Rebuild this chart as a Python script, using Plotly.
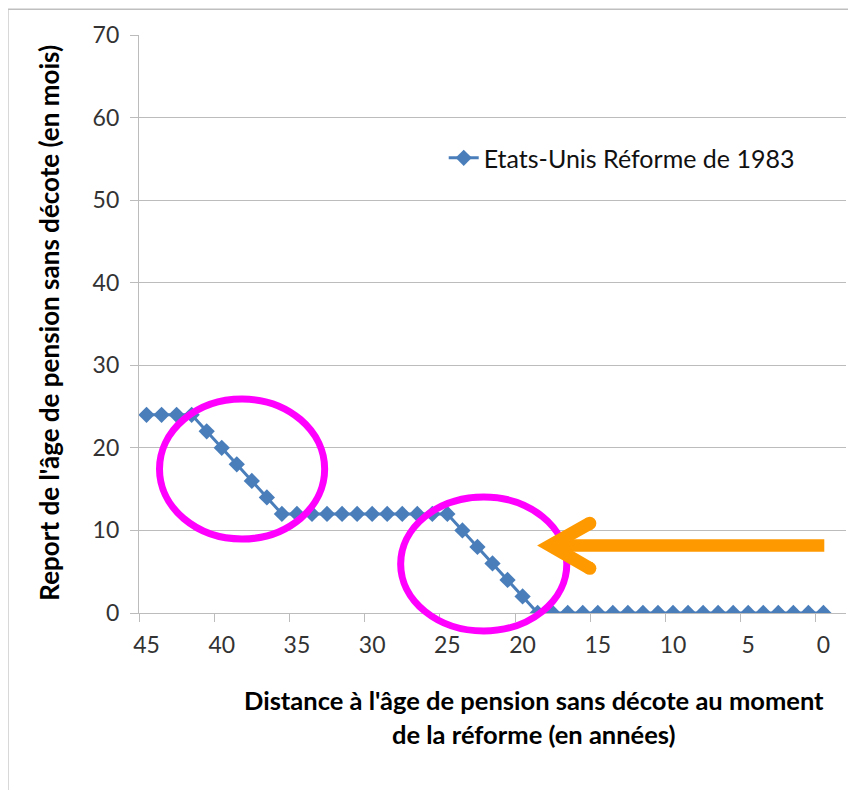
import plotly.graph_objects as go

# ---- data ----
distance_years = [45, 44, 43, 42, 41, 40, 39, 38, 37, 36,
                  35, 34, 33, 32, 31, 30, 29, 28, 27, 26, 25,
                  24, 23, 22, 21, 20, 19,
                  18, 17, 16, 15, 14, 13, 12, 11, 10, 9, 8, 7, 6, 5, 4, 3, 2, 1, 0]
report_mois = [24, 24, 24, 24, 22, 20, 18, 16, 14, 12,
               12, 12, 12, 12, 12, 12, 12, 12, 12, 12, 12,
               10, 8, 6, 4, 2, 0,
               0, 0, 0, 0, 0, 0, 0, 0, 0, 0, 0, 0, 0, 0, 0, 0, 0, 0, 0]
series_name = "Etats-Unis Réforme de 1983"
x_tick_vals = [45, 40, 35, 30, 25, 20, 15, 10, 5, 0]
x_tick_marks = [45.5, 40.5, 35.5, 30.5, 25.5, 20.5, 15.5, 10.5, 5.5, 0.5]
y_tick_vals = [0, 10, 20, 30, 40, 50, 60, 70]
y_title = "Report de l'âge de pension sans décote (en mois)"
x_title_lines = ["Distance à l'âge de pension sans décote au moment",
                 "de la réforme (en années)"]

FONT = "Lato, Carlito, Calibri, sans-serif"
GRID = "#bcbcbc"
BLUE = "#4a7ebb"
MAGENTA = "#ff00ff"
ORANGE = "#ff9900"

fig = go.Figure()
fig.add_trace(go.Scatter(
    x=distance_years, y=report_mois, name=series_name,
    mode="lines+markers",
    line=dict(color=BLUE, width=3),
    marker=dict(symbol="diamond", size=12.5, color=BLUE),
))

# overlay decorations (paper coordinates of the plot area)
ellipses = [(0.029, 0.128, 0.2626, 0.3702), (0.3701, -0.0311, 0.6051, 0.2007)]
shapes = []
for x0, y0, x1, y1 in ellipses:
    shapes.append(dict(type="circle", xref="paper", yref="paper",
                       x0=x0, y0=y0, x1=x1, y1=y1,
                       line=dict(color=MAGENTA, width=7), layer="above"))
# arrow shaft
shapes.append(dict(type="line", xref="paper", yref="paper",
                   x0=0.585, y0=0.1168, x1=0.9693, y1=0.1168,
                   line=dict(color=ORANGE, width=12.5), layer="above"))
# arrow head (chevron)
shapes.append(dict(type="path", xref="paper", yref="paper",
                   path="M0.6377,0.1552 L0.5817,0.1168 L0.6377,0.0773",
                   line=dict(color=ORANGE, width=13), layer="above"))
for cy in (0.1552, 0.0773):
    shapes.append(dict(type="circle", xref="paper", yref="paper",
                       x0=0.6377 - 0.0092, x1=0.6377 + 0.0092,
                       y0=cy - 0.01125, y1=cy + 0.01125,
                       fillcolor=ORANGE, line=dict(width=0), layer="above"))
# outer chart frame
shapes.append(dict(type="rect", xref="paper", yref="paper",
                   x0=-0.1855, y0=-0.4, x1=1.2, y1=1.0445,
                   line=dict(color="#bfbfbf", width=1.5), layer="below"))

annotations = [
    dict(text=f"<b>{y_title}</b>", xref="paper", yref="paper",
         x=-0.1267, y=0.503, textangle=-90, showarrow=False,
         xanchor="center", yanchor="middle",
         font=dict(family=FONT, size=26, color="#000000")),
    dict(text=f"<b>{x_title_lines[0]}</b>", xref="paper", yref="paper",
         x=0.5584, y=-0.1500, showarrow=False, xanchor="center", yanchor="middle",
         font=dict(family=FONT, size=25.5, color="#000000")),
    dict(text=f"<b>{x_title_lines[1]}</b>", xref="paper", yref="paper",
         x=0.5584, y=-0.2100, showarrow=False, xanchor="center", yanchor="middle",
         font=dict(family=FONT, size=25.5, color="#000000")),
]

# page body adds an 8px offset, so the figure is 8px smaller than the window
fig.update_layout(
    width=848, height=782,
    margin=dict(l=131, r=10, t=27, b=177),
    paper_bgcolor="white", plot_bgcolor="white",
    font=dict(family=FONT, size=23, color="#333333"),
    showlegend=True,
    legend=dict(x=0.431, y=0.787, xanchor="left", yanchor="middle",
                bgcolor="rgba(0,0,0,0)", font=dict(family=FONT, size=25, color="#111111")),
    shapes=shapes,
    annotations=annotations,
)
fig.update_xaxes(
    range=[45.5, -1.5], tickmode="array", tickvals=x_tick_vals,
    ticks="", showgrid=False, zeroline=False,
    showline=True, linecolor=GRID, linewidth=1.3,
    ticklabelstandoff=11,
    minor=dict(tickmode="array", tickvals=x_tick_marks, ticks="outside",
               ticklen=8, tickcolor=GRID, tickwidth=1.3, showgrid=False),
)
fig.update_yaxes(
    range=[0, 70], tickmode="array", tickvals=y_tick_vals,
    ticks="outside", ticklen=8, tickcolor=GRID, tickwidth=1.3,
    showgrid=True, gridcolor=GRID, gridwidth=1.3, zeroline=False,
    showline=True, linecolor=GRID, linewidth=1.3,
    ticklabelstandoff=6,
)

fig.write_html("out.html")
